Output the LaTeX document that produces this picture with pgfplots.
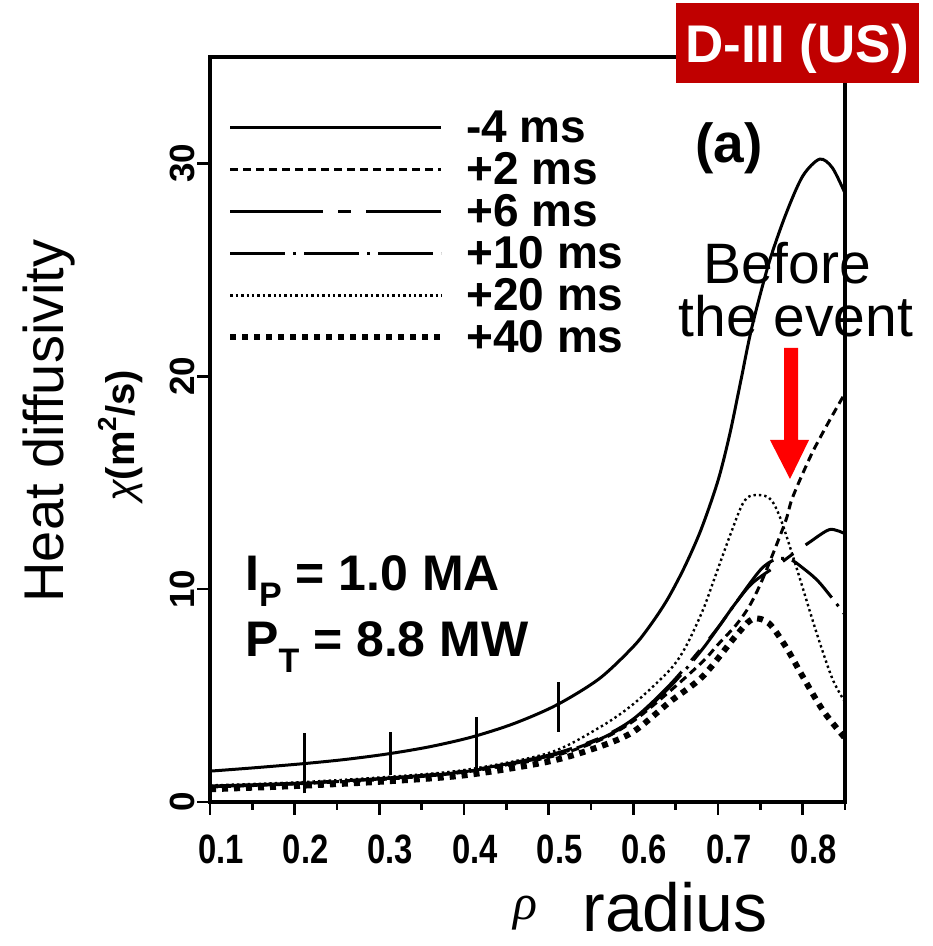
\documentclass[border=0pt]{standalone}
\usepackage{pgfplots}
\pgfplotsset{compat=1.18}
\usepackage{fontspec}
\setmainfont{Liberation Sans}
\newfontfamily\cond{Liberation Sans}[FakeStretch=0.8]
\newfontfamily\grk{Liberation Serif}
\newcommand\fs[1]{\fontsize{#1pt}{#1pt}\selectfont}
\newcommand\sub[1]{\raisebox{-0.32em}{\fs{34}#1}}
\definecolor{boxred}{HTML}{C00000}
\begin{document}
\begin{tikzpicture}[x=1pt,y=1pt]
\path[use as bounding box] (0,0) rectangle (933,946);
\begin{axis}[
  at={(210pt,144pt)}, anchor=south west,
  scale only axis, width=635pt, height=745pt,
  xmin=0.1, xmax=0.85, ymin=0, ymax=35,
  axis line style={line width=4.5pt},
  xtick={0.1,0.2,0.3,0.4,0.5,0.6,0.7,0.8},
  minor xtick={0.15,0.25,0.35,0.45,0.55,0.65,0.75,0.85},
  ytick={0,10,20,30},
  xtick pos=bottom, ytick pos=left,
  tick align=outside,
  major tick length=13pt, minor tick length=8pt,
  every tick/.style={black, line width=2.5pt},
  /pgf/number format/assume math mode=true,
  /pgf/number format/.cd, fixed, precision=1, /pgfplots/.cd,
  xticklabel style={font=\cond\bfseries\fs{41}, inner sep=0pt, anchor=north, xshift=11pt},
  xticklabel shift=20pt,
  yticklabel style={font=\bfseries\fs{35}, inner sep=0pt, rotate=90, anchor=south},
  yticklabel shift=2pt,
  legend style={at={(0.027,0.934)}, anchor=north west, draw=none, fill=none, inner sep=0pt,
    font=\bfseries\fs{46},
    nodes={inner xsep=0pt, inner ysep=6pt, text height=30pt, text depth=0pt, anchor=west},
    /tikz/every odd column/.append style={column sep=22pt}, row sep=0pt},
  legend cell align=left,
  legend image code/.code={\draw[#1, line cap=butt] (0pt,0pt) -- (211pt,0pt);},
]
% -4 ms
\addplot[black, line width=3pt, smooth] coordinates {
(0.10,1.45) (0.15,1.6) (0.21,1.8) (0.26,2.0) (0.31,2.26) (0.36,2.6) (0.41,3.06)
(0.46,3.7) (0.51,4.57) (0.56,5.8) (0.60,7.3) (0.62,8.3) (0.64,9.5) (0.66,11.0)
(0.68,12.8) (0.70,15.1) (0.714,17.3) (0.727,19.8) (0.74,22.3) (0.76,25.3)
(0.78,27.6) (0.80,29.4) (0.82,30.2) (0.835,29.8) (0.85,28.6)};
\addlegendentry{-4 ms}
% +2 ms
\addplot[black, line width=3pt, dash pattern=on 8pt off 5pt, smooth] coordinates {
(0.10,0.7) (0.2,0.85) (0.3,1.05) (0.4,1.4) (0.5,2.1) (0.56,2.9) (0.6,3.8)
(0.643,5.2) (0.682,6.6) (0.70,7.4) (0.721,8.3) (0.737,9.2) (0.753,10.5)
(0.779,13.1) (0.788,14.3) (0.81,16.3) (0.83,17.8) (0.85,19.2)};
\addlegendentry{+2 ms}
% +6 ms
\addplot[black, line width=3pt, dash pattern=on 93pt off 15pt on 13pt off 15pt, smooth] coordinates {
(0.10,0.75) (0.2,0.88) (0.3,1.1) (0.4,1.45) (0.5,2.2) (0.56,3.0) (0.6,3.9)
(0.643,5.5) (0.682,7.3) (0.702,8.3) (0.72,9.3) (0.741,10.3) (0.773,11.2)
(0.79,11.7) (0.808,12.2) (0.832,12.8) (0.85,12.6)};
\addlegendentry{+6 ms}
% +10 ms
\addplot[black, line width=3pt, dash pattern=on 55pt off 8pt on 3pt off 8pt, smooth] coordinates {
(0.10,0.72) (0.2,0.86) (0.3,1.08) (0.4,1.42) (0.5,2.15) (0.56,2.95) (0.6,3.85)
(0.643,5.4) (0.682,7.2) (0.72,9.3) (0.75,10.9) (0.768,11.4) (0.785,11.4)
(0.80,11.0) (0.82,10.3) (0.85,8.8)};
\addlegendentry{+10 ms}
% +20 ms
\addplot[black, line width=2.4pt, dash pattern=on 2.4pt off 3pt, smooth] coordinates {
(0.10,0.78) (0.2,0.92) (0.3,1.15) (0.4,1.5) (0.5,2.3) (0.56,3.5) (0.6,4.6)
(0.643,6.2) (0.662,7.3) (0.682,9.0) (0.694,10.3) (0.714,12.5) (0.729,14.0)
(0.74,14.4) (0.76,14.3) (0.773,13.4) (0.792,11.1) (0.816,8.0) (0.835,5.8) (0.85,4.7)};
\addlegendentry{+20 ms}
% +40 ms
\addplot[black, line width=6pt, dash pattern=on 6pt off 6pt, smooth] coordinates {
(0.10,0.6) (0.2,0.75) (0.3,0.95) (0.4,1.25) (0.5,1.9) (0.56,2.6) (0.6,3.3)
(0.643,4.7) (0.682,5.9) (0.721,7.8) (0.741,8.6) (0.76,8.4) (0.78,7.3)
(0.80,5.9) (0.824,4.3) (0.85,3.0)};
\addlegendentry{+40 ms}
% error bars on -4 ms
\addplot[black, line width=3pt, forget plot] coordinates {(0.212,0.4) (0.212,3.25)};
\addplot[black, line width=3pt, forget plot] coordinates {(0.313,1.27) (0.313,3.3)};
\addplot[black, line width=3pt, forget plot] coordinates {(0.415,1.4) (0.415,4.0)};
\addplot[black, line width=3pt, forget plot] coordinates {(0.512,3.3) (0.512,5.65)};
\end{axis}
% annotations
\node[rotate=90, anchor=base, font=\fs{56}, inner sep=0pt] at (63,525) {Heat diffusivity};
\node[rotate=90, anchor=base, font=\bfseries\fs{40}, inner sep=0pt] at (134,510)
  {{\mdseries\itshape χ}(m\raisebox{0.45em}{\fs{26}2}/s)};
\node[anchor=base, font=\grk\itshape\fs{50}, inner sep=0pt] at (525,27) {ρ};
\node[anchor=base, font=\fs{68}, inner sep=0pt] at (675,14) {radius};
\node[anchor=base, font=\fs{57}, inner sep=0pt] at (787,662) {Before};
\node[anchor=base, font=\fs{57}, inner sep=0pt] at (796,609) {the event};
\fill[red] (784,598) -- (798,598) -- (798,506) -- (809,506) -- (790,467) -- (770,506) -- (784,506) -- cycle;
\fill[boxred] (676,863) rectangle (919,943);
\node[anchor=base, font=\bfseries\fs{53}, text=white, inner sep=0pt] at (797,883) {D-III (US)};
\node[anchor=base, font=\bfseries\fs{55}, inner sep=0pt] at (729,783) {(a)};
\node[anchor=base west, font=\bfseries\fs{50}, inner sep=0pt] at (245,355) {I\sub{P} = 1.0 MA};
\node[anchor=base west, font=\bfseries\fs{50}, inner sep=0pt] at (245,289) {P\sub{T} = 8.8 MW};
\end{tikzpicture}
\end{document}
